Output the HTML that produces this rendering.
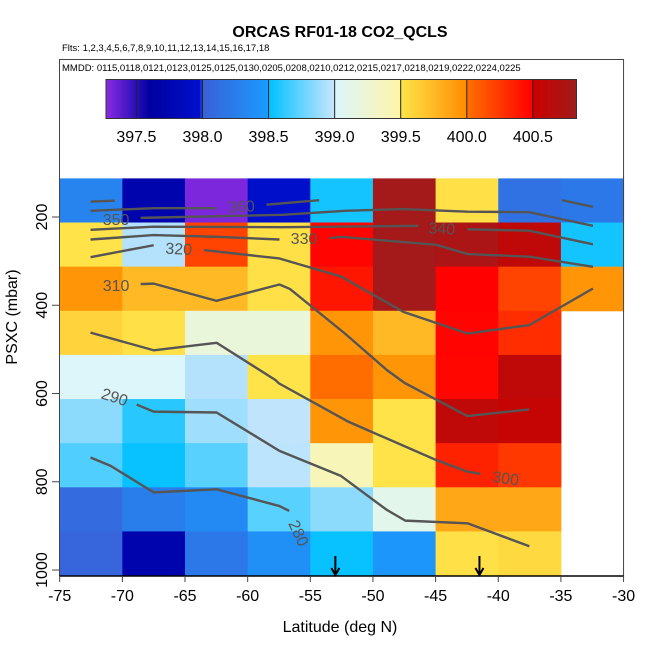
<!DOCTYPE html>
<html><head><meta charset="utf-8"><style>
html,body{margin:0;padding:0;background:#fff;}
svg{display:block;font-family:"Liberation Sans",Arial,sans-serif;}
</style></head><body>
<svg id="chart" width="650" height="650" viewBox="0 0 650 650" xmlns="http://www.w3.org/2000/svg">
<text x="340" y="37" text-anchor="middle" font-size="16" font-weight="bold">ORCAS RF01-18 CO2_QCLS</text>
<text x="62" y="51" font-size="9.5">Flts: 1,2,3,4,5,6,7,8,9,10,11,12,13,14,15,16,17,18</text>
<text x="62" y="71" font-size="9.5">MMDD: 0115,0118,0121,0123,0125,0125,0130,0205,0208,0210,0212,0215,0217,0218,0219,0222,0224,0225</text>
<g id="cells"></g>
<g id="contours"></g>
<g id="cbar"></g>
<g id="axes"></g>
<text x="340" y="632" text-anchor="middle" font-size="16">Latitude (deg N)</text>
<text x="0" y="0" transform="translate(17,317) rotate(-90)" text-anchor="middle" font-size="16">PSXC (mbar)</text>
</svg>
<script>
const latEdges = [-75,-70,-65,-60,-55,-50,-45,-40,-35,-30];
const presEdges = [112.5,212.5,312.5,412.5,512.5,612.5,712.5,812.5,912.5,1012.5];
const co2Rows = [
 [398.3,397.7,397.3,397.95,398.55,400.8,399.52,398.15,398.2],
 [399.51,398.95,400.2,399.53,400.48,400.8,400.75,400.6,398.55],
 [399.95,399.75,399.75,399.52,400.4,400.8,400.49,400.2,399.95],
 [399.6,399.53,399.2,399.2,399.95,399.75,400.48,400.3,null],
 [399.02,399.02,398.95,399.51,400.02,399.95,400.47,400.6,null],
 [398.85,398.6,398.9,398.98,399.95,399.51,400.6,400.55,null],
 [398.7,398.52,398.72,398.97,399.4,399.51,400.35,400.25,null],
 [398.1,398.25,398.35,398.72,398.85,399.1,399.85,399.85,null],
 [398.05,397.7,398.2,398.4,398.52,398.45,399.52,399.57,null]
];
const xTicks = [-75,-70,-65,-60,-55,-50,-45,-40,-35,-30];
const yTicks = [200,400,600,800,1000];
const cbTicks = [397.5,398.0,398.5,399.0,399.5,400.0,400.5];
const cbRange = [397.27,400.83];
const arrowLats = [-53,-41.5];
const contours = [
 [[-72.54,165],[-70.6,163]],
 [[-58.5,172],[-57.22,169],[-54.29,162]],
 [[-34.92,162],[-32.44,177]],
 [[-72.54,186],[-67.5,180],[-62.48,180]],
 [[-68.54,202],[-57.22,195],[-52.24,186],[-47.57,182],[-42.46,188],[-37.52,189],[-32.44,220]],
 [[-72.54,229],[-67.5,222],[-57.22,223],[-46.4,220]],
 [[-42.46,228],[-37.52,231],[-32.44,262]],
 [[-72.54,251],[-67.5,241],[-62.48,245],[-57.46,251]],
 [[-53.47,248],[-52.54,245],[-44.94,263],[-42.46,284],[-37.52,290],[-32.44,313]],
 [[-72.54,291],[-67.5,264]],
 [[-63.48,275],[-57.46,294],[-52.54,335],[-47.57,415],[-42.46,464],[-37.52,445],[-32.44,362]],
 [[-68.54,352],[-67.5,351],[-62.48,390],[-57.46,353],[-56.63,363],[-52.24,464],[-48.88,547],[-47.42,577],[-42.46,651],[-37.52,636]],
 [[-72.54,462],[-67.5,502],[-62.48,485],[-57.8,569],[-57.5,577],[-51.95,664],[-44.94,751],[-42.46,777],[-41.43,782]],
 [[-68.86,625],[-67.5,641],[-62.48,643],[-57.46,730],[-52.54,787],[-48.88,864],[-47.42,888],[-42.46,894],[-37.52,946]],
 [[-72.54,745],[-70.93,764],[-67.5,824],[-62.48,817],[-57.46,855],[-56.68,866]]
];
const contourLabels = ["360","350","340","330","320","310","300","290","280"];
const labelLats = [-60.5,-70.5,-44.5,-55.5,-65.5,-70.5,-39.4,-70.6,-55.9];
const labelPres = [175,205,225,248,271,354,791,607,916];
const labelRot = [-3,0,3,0,3,0,8,18,65];

const NS="http://www.w3.org/2000/svg";
const X0=59.7, KX=12.53, Y0=217, KY=0.4413;
function xs(lat){return X0+(lat+75)*KX;}
function ys(p){return Y0+(p-200)*KY;}
const CB_L=106, CB_R=576.5, CB_T=79.5, CB_B=118.5;
function cbx(v){return CB_L+(v-cbRange[0])/(cbRange[1]-cbRange[0])*(CB_R-CB_L);}
const stops=[[397.27,'#8a2be2'],[397.5,'#2a10b8'],[397.6,'#0000a0'],[397.98,'#0010cc'],[398.0,'#3a60d8'],[398.5,'#1a9cff'],[398.5,'#00c0ff'],[399.0,'#c8e6fc'],[399.0,'#dcf6fc'],[399.5,'#fff5a8'],[399.5,'#ffe54a'],[400.0,'#ff8c00'],[400.0,'#ff7000'],[400.5,'#ff0000'],[400.5,'#cc0000'],[400.83,'#a01c1c']];
function hx(c){return [1,3,5].map(i=>parseInt(c.substr(i,2),16));}
function cmap(v){
 if(v<=stops[0][0])return stops[0][1];
 for(let i=0;i<stops.length-1;i++){
  const a=stops[i],b=stops[i+1];
  if(v>=a[0]&&v<b[0]){const t=(v-a[0])/(b[0]-a[0]);const ca=hx(a[1]),cb=hx(b[1]);
   return 'rgb('+ca.map((c,k)=>Math.round(c+(cb[k]-c)*t)).join(',')+')';}
 }
 return stops[stops.length-1][1];
}
function mk(tag,attrs,parent){const e=document.createElementNS(NS,tag);for(const k in attrs)e.setAttribute(k,attrs[k]);parent.appendChild(e);return e;}

const gCells=document.getElementById('cells');
co2Rows.forEach((row,r)=>row.forEach((v,c)=>{
 if(v===null)return;
 const x1=xs(latEdges[c]),x2=xs(latEdges[c+1]),y1=ys(presEdges[r]),y2=ys(presEdges[r+1]);
 const e=mk('rect',{x:x1,y:y1,width:x2-x1+0.5,height:y2-y1+0.5,fill:cmap(v)},gCells);
 
 
}));

const gC=document.getElementById('contours');
contours.forEach(line=>{
 const e=mk('polyline',{points:line.map(p=>xs(p[0])+','+ys(p[1])).join(' '),fill:'none',stroke:'#555',"stroke-width":2.4,"stroke-linejoin":"round"},gC);
 
 
});
contourLabels.forEach((t,i)=>{
 const x=xs(labelLats[i]),y=ys(labelPres[i]);
 const e=mk('text',{x:x,y:y+6,"text-anchor":"middle","font-size":16,fill:'#555',transform:'rotate('+labelRot[i]+' '+x+' '+y+')'},gC);
 e.textContent=t;
 
 
});
arrowLats.forEach(l=>{
 const x=xs(l);
 const e=mk('path',{d:`M${x},556 L${x},575 M${x-4},568 L${x},575 L${x+4},568`,stroke:'#000',"stroke-width":2,fill:'none'},gC);
 
 
});

const gB=document.getElementById('cbar');
const N=240;
for(let i=0;i<N;i++){
 const v=cbRange[0]+(i+0.5)/N*(cbRange[1]-cbRange[0]);
 const x=CB_L+i/N*(CB_R-CB_L);
 mk('rect',{x:x,y:CB_T,width:(CB_R-CB_L)/N+0.4,height:CB_B-CB_T,fill:cmap(v)},gB);
}
cbTicks.forEach(t=>{
 const x=cbx(t);
 mk('line',{x1:x,x2:x,y1:CB_T,y2:CB_B,stroke:'#222',"stroke-width":1},gB);
 const e=mk('text',{x:x,y:142,"text-anchor":"middle","font-size":16},gB);
 e.textContent=t.toFixed(1);
 
 
});
mk('rect',{x:CB_L,y:CB_T,width:CB_R-CB_L,height:CB_B-CB_T,fill:'none',stroke:'#333',"stroke-width":1},gB);

const gA=document.getElementById('axes');
const fr=mk('rect',{x:59.5,y:59.5,width:xs(-30)-59.5,height:576-59.5,fill:'none',stroke:'#444',"stroke-width":1},gA);


mk('line',{x1:59.5,x2:xs(-30),y1:576,y2:576,stroke:'#000',"stroke-width":1.5},gA);
xTicks.forEach(t=>{
 const x=xs(t);
 mk('line',{x1:x,x2:x,y1:576,y2:582,stroke:'#444'},gA);
 const e=mk('text',{x:x,y:601,"text-anchor":"middle","font-size":16},gA);
 e.textContent=t;
 
 
});
yTicks.forEach(t=>{
 const y=ys(t);
 mk('line',{x1:52,x2:59.5,y1:y,y2:y,stroke:'#444'},gA);
 const e=mk('text',{x:0,y:0,"text-anchor":"middle","font-size":16,transform:`translate(47,${y}) rotate(-90)`},gA);
 e.textContent=t;
 
 
});
</script>
</body></html>
